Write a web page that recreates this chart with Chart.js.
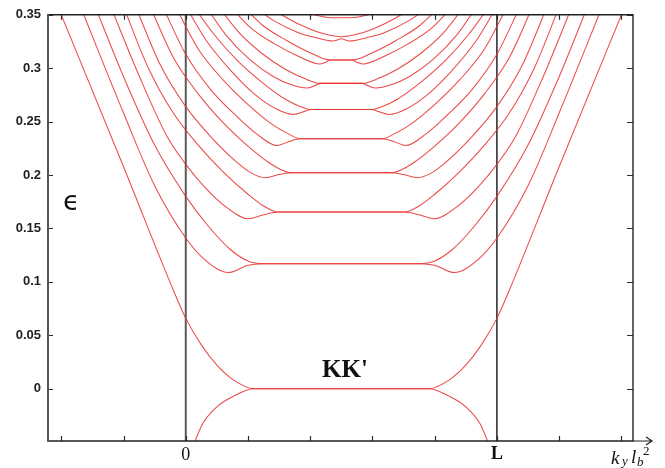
<!DOCTYPE html>
<html>
<head>
<meta charset="utf-8">
<script src="https://cdn.jsdelivr.net/npm/chart.js@4.4.1/dist/chart.umd.min.js"></script>
<style>
  html, body { margin: 0; padding: 0; background: #fff; }
  #wrap { position: relative; width: 665px; height: 468px; }
</style>
</head>
<body>
<div id="wrap"><canvas id="levels" width="665" height="468"></canvas></div>
<script>
// guiding centre k_y l_b^2 in tick units (0 and L = 5 are the ribbon edges)
const xTicks = [-2, -1, 0, 1, 2, 3, 4, 5, 6, 7];
const xTickLabels = ['', '', '0', '', '', '', '', 'L', '', ''];
const yTicks = [0, 0.05, 0.1, 0.15, 0.2, 0.25, 0.3, 0.35];
const yTickLabels = ['0', '0.05', '0.1', '0.15', '0.2', '0.25', '0.3', '0.35'];
const edgeLines = [0, 5];

// energy branches, [k, eps] pairs
const n0Up = [[-2.1,0.364],[-1.0,0.2077],[-0.2,0.0922],[0,0.0658],[0.25,0.041],[0.5,0.022],[0.77,0.008],[1.09,0],
  [3.91,0],[4.23,0.008],[4.5,0.022],[4.75,0.041],[5,0.0658],[5.2,0.0922],[6,0.2077],[7.1,0.364]];
const n0Low = [[0.08,-0.06],[0.15,-0.049],[0.28,-0.032],[0.5,-0.017],[0.77,-0.007],[1.09,0],
  [3.91,0],[4.23,-0.007],[4.5,-0.017],[4.72,-0.032],[4.85,-0.049],[4.92,-0.06]];
const n1Dip = [[-1.75,0.366],[-1.0,0.258],[-0.5,0.19],[0,0.141],[0.3,0.121],[0.685,0.1087],[1.0,0.1155],[1.248,0.117],
  [3.752,0.117],[4.0,0.1155],[4.315,0.1087],[4.7,0.121],[5,0.141],[5.5,0.19],[6,0.258],[6.75,0.366]];
const n1Up = [[-1.5,0.364],[-1.0,0.292],[-0.5,0.228],[0,0.18],[0.35,0.153],[0.712,0.1305],[1.0,0.1195],[1.248,0.117],
  [3.752,0.117],[4.0,0.1195],[4.288,0.1305],[4.65,0.153],[5,0.18],[5.5,0.228],[6,0.292],[6.5,0.364]];
const n2Dip = [[-1.25,0.364],[-0.75,0.293],[-0.3,0.236],[0,0.21],[0.3,0.189],[0.65,0.17],[1.006,0.1591],[1.25,0.1628],[1.489,0.1653],
  [3.511,0.1653],[3.75,0.1628],[3.994,0.1591],[4.35,0.17],[4.7,0.189],[5,0.21],[5.3,0.236],[5.75,0.293],[6.25,0.364]];
const n2Up = [[-1.05,0.365],[-0.6,0.3],[-0.2,0.258],[0.2,0.228],[0.6,0.203],[1.0,0.182],[1.25,0.171],[1.489,0.1653],
  [3.511,0.1653],[3.75,0.171],[4.0,0.182],[4.4,0.203],[4.8,0.228],[5.2,0.258],[5.6,0.3],[6.05,0.365]];
const n3Dip = [[-0.85,0.364],[-0.4,0.302],[0,0.264],[0.4,0.236],[0.8,0.213],[1.05,0.202],[1.275,0.1975],[1.5,0.2005],[1.71,0.2021],
  [3.29,0.2021],[3.5,0.2005],[3.725,0.1975],[3.95,0.202],[4.2,0.213],[4.6,0.236],[5,0.264],[5.4,0.302],[5.85,0.364]];
const n3Up = [[-0.62,0.364],[-0.2,0.31],[0.2,0.276],[0.6,0.249],[1.0,0.227],[1.35,0.211],[1.55,0.2045],[1.71,0.2021],
  [3.29,0.2021],[3.45,0.2045],[3.65,0.211],[4.0,0.227],[4.4,0.249],[4.8,0.276],[5.2,0.31],[5.62,0.364]];
const n4Dip = [[-0.42,0.364],[0,0.313],[0.4,0.28],[0.8,0.256],[1.15,0.238],[1.465,0.2276],[1.65,0.2312],[1.84,0.234],
  [3.16,0.234],[3.35,0.2312],[3.535,0.2276],[3.85,0.238],[4.2,0.256],[4.6,0.28],[5,0.313],[5.42,0.364]];
const n4Up = [[-0.22,0.364],[0.2,0.318],[0.6,0.289],[1.0,0.266],[1.4,0.247],[1.65,0.2385],[1.84,0.234],
  [3.16,0.234],[3.35,0.2385],[3.6,0.247],[4.0,0.266],[4.4,0.289],[4.8,0.318],[5.22,0.364]];
const n5Dip = [[-0.06,0.364],[0.33,0.326],[0.72,0.298],[1.1,0.276],[1.45,0.262],[1.73,0.2566],[1.88,0.259],[2.02,0.2613],
  [2.98,0.2613],[3.12,0.259],[3.27,0.2566],[3.55,0.262],[3.9,0.276],[4.28,0.298],[4.67,0.326],[5.06,0.364]];
const n5Up = [[0.05,0.364],[0.45,0.332],[0.83,0.307],[1.22,0.287],[1.6,0.271],[1.85,0.264],[2.02,0.2613],
  [2.98,0.2613],[3.15,0.264],[3.4,0.271],[3.78,0.287],[4.17,0.307],[4.55,0.332],[4.95,0.364]];
const n6Dip = [[0.25,0.364],[0.66,0.33],[1.03,0.308],[1.41,0.292],[1.7,0.2845],[1.945,0.2815],[2.05,0.283],[2.16,0.2858],
  [2.84,0.2858],[2.95,0.283],[3.055,0.2815],[3.3,0.2845],[3.59,0.292],[3.97,0.308],[4.34,0.33],[4.75,0.364]];
const n6Up = [[0.45,0.364],[0.86,0.333],[1.22,0.314],[1.6,0.299],[1.9,0.2905],[2.16,0.2858],
  [2.84,0.2858],[3.1,0.2905],[3.4,0.299],[3.78,0.314],[4.14,0.333],[4.55,0.364]];
const n7Dip = [[0.62,0.364],[1.04,0.338],[1.42,0.323],[1.8,0.3115],[2.16,0.304],[2.25,0.3055],[2.32,0.3077],
  [2.68,0.3077],[2.75,0.3055],[2.84,0.304],[3.2,0.3115],[3.58,0.323],[3.96,0.338],[4.38,0.364]];
const n7Up = [[0.82,0.364],[1.24,0.34],[1.62,0.326],[2.0,0.3145],[2.32,0.3077],
  [2.68,0.3077],[3.0,0.3145],[3.38,0.326],[3.76,0.34],[4.18,0.364]];
const n8Dip = [[0.95,0.364],[1.4,0.345],[1.8,0.3335],[2.1,0.3285],[2.37,0.3255],[2.5,0.3275],
  [2.63,0.3255],[2.9,0.3285],[3.2,0.3335],[3.6,0.345],[4.05,0.364]];
const n8Up = [[1.2,0.364],[1.6,0.348],[2.0,0.3365],[2.3,0.331],[2.5,0.3294],
  [2.7,0.331],[3.0,0.3365],[3.4,0.348],[3.8,0.364]];
const n9Dip = [[1.6,0.364],[1.95,0.3525],[2.25,0.3478],[2.5,0.3472],
  [2.75,0.3478],[3.05,0.3525],[3.4,0.364]];
const n9Up = [[1.8,0.364],[2.1,0.355],[2.5,0.3515],[2.9,0.355],[3.2,0.364]];

const branches = [n0Up, n0Low, n1Dip, n1Up, n2Dip, n2Up, n3Dip, n3Up, n4Dip, n4Up,
  n5Dip, n5Up, n6Dip, n6Up, n7Dip, n7Up, n8Dip, n8Up, n9Dip, n9Up];

const Y_MIN = -0.049, Y_MAX = 0.35;
const X_MIN = -2.214, X_MAX = 7.187;

const datasets = branches.map(b => ({
    data: b.map(p => ({ x: p[0], y: p[1] })),
    showLine: true,
    borderColor: 'rgba(234, 48, 48, 0.88)',
    borderWidth: 1.05,
    pointRadius: 0,
    cubicInterpolationMode: 'monotone',
    order: 1
}));

// ribbon edges at 0 and L
edgeLines.forEach((v, i) => {
    datasets.push({
        data: [{ x: v, y: Y_MIN }, { x: v, y: Y_MAX }],
        showLine: true,
        borderColor: i === 0 ? '#5a5a5a' : '#151515',
        borderWidth: i === 0 ? 2 : 1.4,
        pointRadius: 0,
        order: 2
    });
});

/**
 * Frame, inward ticks, axis arrow and the text labels
 */
const framePlugin = {
    id: 'frame',
    afterDraw(chart) {
        const { ctx, chartArea: a, scales: { x, y } } = chart;
        ctx.save();

        ctx.strokeStyle = '#2a2a2a';
        ctx.lineWidth = 1.2;
        ctx.beginPath();
        xTicks.forEach(v => {
            const px = Math.round(x.getPixelForValue(v)) + 0.5;
            ctx.moveTo(px, a.bottom); ctx.lineTo(px, a.bottom - 5);
            ctx.moveTo(px, a.top); ctx.lineTo(px, a.top + 5);
        });
        yTicks.forEach(v => {
            const py = Math.round(y.getPixelForValue(v)) + 0.5;
            ctx.moveTo(a.left, py); ctx.lineTo(a.left + 5, py);
            ctx.moveTo(a.right, py); ctx.lineTo(a.right - 6, py);
        });
        ctx.stroke();

        // box: left side a bit greyer and heavier
        ctx.lineWidth = 1.4;
        ctx.strokeStyle = '#222';
        ctx.beginPath();
        ctx.moveTo(a.left, a.top); ctx.lineTo(a.right, a.top);
        ctx.lineTo(a.right, a.bottom); ctx.lineTo(a.left, a.bottom);
        ctx.stroke();
        ctx.strokeStyle = '#555';
        ctx.lineWidth = 2;
        ctx.beginPath();
        ctx.moveTo(a.left, a.top - 0.7); ctx.lineTo(a.left, a.bottom + 0.7);
        ctx.stroke();

        // arrow on the k axis
        ctx.strokeStyle = '#222';
        ctx.lineWidth = 1.2;
        ctx.beginPath();
        ctx.moveTo(a.right, a.bottom); ctx.lineTo(652, a.bottom);
        ctx.moveTo(646, a.bottom - 4); ctx.lineTo(652, a.bottom); ctx.lineTo(646, a.bottom + 4);
        ctx.stroke();

        ctx.fillStyle = '#111';
        ctx.textBaseline = 'alphabetic';
        ctx.textAlign = 'left';
        ctx.font = 'italic 19px "Liberation Serif"';
        ctx.fillText('k', 611, 464);
        ctx.fillText('l', 631, 463);
        ctx.font = 'italic 13px "Liberation Serif"';
        ctx.fillText('y', 622, 465);
        ctx.fillText('b', 637, 466);
        ctx.font = '13px "Liberation Serif"';
        ctx.fillText('2', 643, 455);

        ctx.font = '27px "DejaVu Sans"';
        ctx.fillText('\u03F5', 63, 210);

        ctx.font = 'bold 25px "Liberation Serif"';
        ctx.fillText("KK'", 322, 377);

        ctx.restore();
    }
};

const chart = new Chart(document.getElementById('levels'), {
    type: 'scatter',
    data: { datasets },
    options: {
        responsive: false,
        animation: false,
        layout: { padding: { top: 14, right: 32, left: 0, bottom: 0 } },
        plugins: { legend: { display: false }, tooltip: { enabled: false } },
        scales: {
            x: {
                type: 'linear',
                min: X_MIN,
                max: X_MAX,
                grid: { display: false, drawTicks: false },
                border: { display: false },
                afterBuildTicks: s => { s.ticks = xTicks.map(v => ({ value: v })); },
                afterFit: s => { s.height = 27; },
                ticks: {
                    padding: 3,
                    color: '#111',
                    maxRotation: 0,
                    autoSkip: false,
                    callback: (v) => xTickLabels[xTicks.indexOf(v)],
                    font: ctx => ({
                        family: '"Liberation Serif"',
                        size: 18,
                        weight: ctx.tick && ctx.tick.value === 5 ? 'bold' : 'normal'
                    })
                }
            },
            y: {
                type: 'linear',
                min: Y_MIN,
                max: Y_MAX,
                grid: { display: false, drawTicks: false },
                border: { display: false },
                afterBuildTicks: s => { s.ticks = yTicks.map(v => ({ value: v })); },
                afterFit: s => { s.width = 48; },
                ticks: {
                    padding: 7,
                    color: '#222',
                    autoSkip: false,
                    callback: (v) => yTickLabels[yTicks.indexOf(v)],
                    font: { family: '"Liberation Sans"', size: 13, weight: 'bold' }
                }
            }
        }
    },
    plugins: [framePlugin]
});
</script>
</body>
</html>
